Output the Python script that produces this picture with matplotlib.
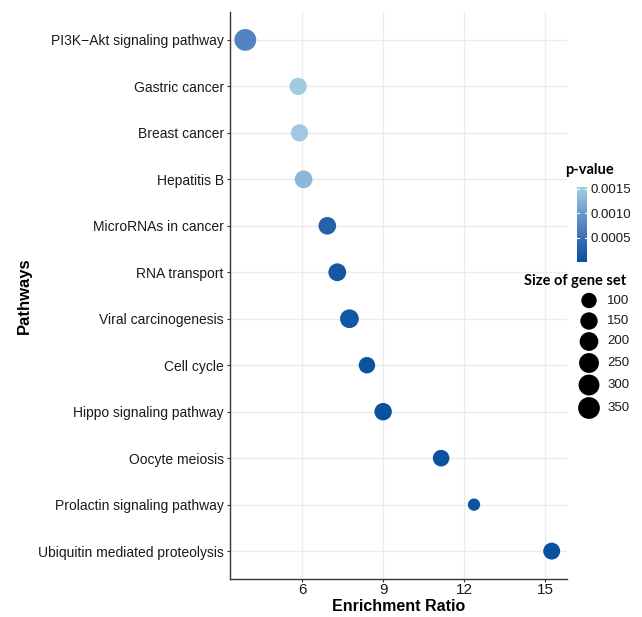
import numpy as np
import matplotlib
matplotlib.use("Agg")
import matplotlib.pyplot as plt
from matplotlib.colors import LinearSegmentedColormap, Normalize
from matplotlib.colorbar import ColorbarBase

# ---------------- data ----------------
pathways = ["PI3K\u2212Akt signaling pathway", "Gastric cancer", "Breast cancer",
            "Hepatitis B", "MicroRNAs in cancer", "RNA transport",
            "Viral carcinogenesis", "Cell cycle", "Hippo signaling pathway",
            "Oocyte meiosis", "Prolactin signaling pathway",
            "Ubiquitin mediated proteolysis"]
enrichment = [3.89, 5.85, 5.90, 6.05, 6.93, 7.30, 7.75, 8.40, 9.00, 11.15, 12.37, 15.25]
pvalues = [0.00075, 0.00150, 0.00148, 0.00130, 0.00030, 0.00012, 0.00010,
           0.00004, 0.00002, 0.00002, 0.00006, 0.00002]
gene_set_size = [354, 149, 147, 162, 160, 165, 201, 124, 154, 128, 70, 137]

x_ticks = [6, 9, 12, 15]
cbar_ticks = [0.0005, 0.0010, 0.0015]
size_breaks = [100, 150, 200, 250, 300, 350]

# ---------------- style ----------------
DPI = 100
W, H = 642, 617
cmap = LinearSegmentedColormap.from_list("pv", ["#08519C", "#3C6FB5", "#6E9BCD", "#A6CEE3"])
norm = Normalize(vmin=0.0, vmax=0.00154)
smin, smax = min(gene_set_size), max(gene_set_size)
dmin, dmax = 12.3, 21.8  # diameters in px


def marker_area(v):
    v = np.asarray(v, dtype=float)
    d = dmin + (dmax - dmin) * np.sqrt(np.clip((v - smin) / (smax - smin), 0, 1))
    return (d * 72.0 / DPI) ** 2


fig = plt.figure(figsize=(W / DPI, H / DPI), dpi=DPI)
fig.patch.set_facecolor("white")

L, R, T, B = 230, 567, 12, 579
ax = fig.add_axes([L / W, 1 - B / H, (R - L) / W, (B - T) / H])

n = len(pathways)
ypos = np.arange(n)[::-1]
ax.scatter(enrichment, ypos, s=marker_area(gene_set_size), c=pvalues,
           cmap=cmap, norm=norm, linewidths=0, zorder=3)

xr = max(enrichment) - min(enrichment)
ax.set_xlim(min(enrichment) - 0.05 * xr, max(enrichment) + 0.05 * xr)
ax.set_ylim(-0.6, n - 1 + 0.6)
ax.set_xticks(x_ticks)
ax.set_xticklabels([str(t) for t in x_ticks])
ax.set_yticks(ypos)
ax.set_yticklabels(pathways)

ax.grid(True, color="#EBEBEB", linewidth=1.0, zorder=0)
ax.set_axisbelow(True)
for s in ["top", "right"]:
    ax.spines[s].set_visible(False)
for s in ["left", "bottom"]:
    ax.spines[s].set_color("#333333")
    ax.spines[s].set_linewidth(1.0)

ax.tick_params(axis="y", length=2.5, width=0.8, color="#333333", pad=2)
ax.tick_params(axis="x", length=2.5, width=0.8, color="#333333", pad=0.5)
for lab in ax.get_yticklabels():
    lab.set_fontfamily("Liberation Sans")
    lab.set_fontsize(10)
    lab.set_color("#1A1A1A")
for lab in ax.get_xticklabels():
    lab.set_fontfamily("Liberation Sans")
    lab.set_fontsize(11)
    lab.set_color("#1A1A1A")

ax.set_xlabel("Enrichment Ratio", fontfamily="Liberation Sans", fontsize=11.5,
              fontweight="bold", labelpad=1)
ax.set_ylabel("Pathways", fontfamily="Liberation Sans", fontsize=12,
              fontweight="bold", labelpad=4)

# ---------------- colour legend ----------------
cax = fig.add_axes([577 / W, 1 - 262 / H, 10 / W, 75 / H])
cb = ColorbarBase(cax, cmap=cmap, norm=norm, orientation="vertical")
cb.set_ticks(cbar_ticks)
cb.set_ticklabels([f"{t:.4f}" for t in cbar_ticks])
cb.outline.set_visible(False)
cax.tick_params(length=0, pad=2.5, labelsize=9.5)
for lab in cax.get_yticklabels():
    lab.set_fontfamily("Liberation Sans")
    lab.set_color("#1A1A1A")
for t in cbar_ticks:
    cax.plot([0, 0.2], [t, t], color="white", lw=0.8, transform=cax.get_yaxis_transform())
    cax.plot([0.8, 1.0], [t, t], color="white", lw=0.8, transform=cax.get_yaxis_transform())

fig.text(589 / W, 1 - 170 / H, "p-value", fontfamily="Lato", fontweight="bold",
         fontsize=10.5, ha="center", va="center")

# ---------------- size legend ----------------
fig.text(575 / W, 1 - 281 / H, "Size of gene set", fontfamily="Lato",
         fontweight="bold", fontsize=10.5, ha="center", va="center")
oax = fig.add_axes([0, 0, 1, 1], facecolor="none")
oax.set_xlim(0, W)
oax.set_ylim(H, 0)
oax.axis("off")
leg_y = [300.5, 321, 341.5, 363, 385, 408]
oax.scatter([589] * len(size_breaks), leg_y, s=marker_area(size_breaks),
            color="black", linewidths=0)
for yy, sb in zip(leg_y, size_breaks):
    oax.text(607, yy, str(sb), fontfamily="Liberation Sans", fontsize=9.5,
             ha="left", va="center", color="#1A1A1A")

fig.savefig("out.png", dpi=DPI)
